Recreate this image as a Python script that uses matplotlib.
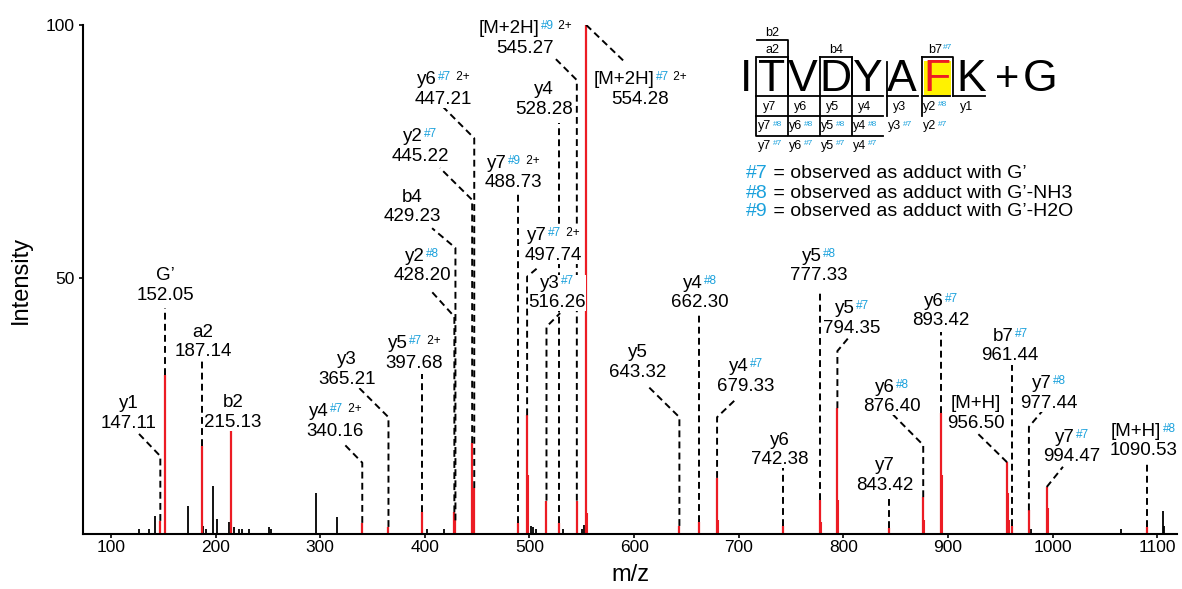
import numpy as np
import matplotlib
matplotlib.use("Agg")
import matplotlib.pyplot as plt
from matplotlib.lines import Line2D
from matplotlib.patches import Rectangle
from matplotlib.offsetbox import TextArea, HPacker, VPacker, AnnotationBbox

plt.rcParams['font.family'] = ['Liberation Sans', 'DejaVu Sans']

RED = '#ec1c24'
BLUE = '#1ba1dc'

# annotated (matched) fragment peaks
ann_mz = [147.11, 152.05, 187.14, 215.13, 340.16, 365.21, 397.68, 428.20, 429.23,
          445.22, 447.21, 488.73, 497.74, 516.26, 528.28, 545.27, 554.28, 643.32,
          662.30, 679.33, 742.38, 777.33, 794.35, 843.42, 876.40, 893.42, 956.50,
          961.44, 977.44, 994.47, 1090.53]
ann_int = [1.9, 30.7, 16.8, 19.9, 1.5, 0.7, 3.6, 3.6, 2.0,
           17.3, 8.4, 1.5, 22.8, 5.9, 1.5, 5.9, 100.0, 0.9,
           1.7, 10.4, 0.9, 6.0, 24.2, 0.5, 6.6, 23.2, 13.5,
           0.8, 4.0, 8.6, 0.7]
ann_ion = ["y1", "G\u2019", "a2", "b2", "y4", "y3", "y5", "y2", "b4",
           "y2", "y6", "y7", "y7", "y3", "y4", "[M+2H]", "[M+2H]", "y5",
           "y4", "y4", "y6", "y5", "y5", "y7", "y6", "y6", "[M+H]",
           "b7", "y7", "y7", "[M+H]"]
ann_adduct = ["", "", "", "", "#7", "", "#7", "#8", "",
              "#7", "#7", "#9", "#7", "#7", "", "#9", "#7", "",
              "#8", "#7", "", "#8", "#7", "", "#8", "#7", "",
              "#7", "#8", "#7", "#8"]
ann_charge = ["", "", "", "", "2+", "", "2+", "", "",
              "", "2+", "2+", "2+", "", "", "2+", "2+", "",
              "", "", "", "", "", "", "", "", "",
              "", "", "", ""]

# isotope peaks of matched ions (also red)
iso_mz = [498.24, 555.28, 680.33, 778.33, 795.35, 877.40, 894.42, 957.50, 958.50, 995.47]
iso_int = [11.0, 3.4, 2.0, 1.6, 6.0, 2.0, 11.0, 7.4, 2.0, 4.4]

# unmatched peaks (black)
noise_mz = [126.5, 136.3, 142.0, 173.3, 188.3, 190.5, 197.8, 201.0, 212.8, 217.5,
            222.7, 225.5, 232.0, 251.0, 252.5, 296.0, 315.7, 402.5, 418.3, 501.5,
            503.7, 506.3, 531.8, 550.0, 552.2, 979.2, 1065.0, 1106.0, 1107.0]
noise_int = [0.3, 0.3, 2.9, 4.8, 0.9, 0.2, 8.8, 2.3, 1.6, 0.7,
             0.2, 0.3, 0.3, 0.6, 0.2, 7.5, 2.6, 0.3, 0.3, 0.9,
             0.7, 0.3, 0.3, 0.3, 1.1, 0.3, 0.3, 3.8, 0.9]

# label layout: label centre, leader knee height, leader end point (data units)
lab_x = [117.2, 151.6, 188.0, 216.6, 314.2, 325.6, 389.7, 397.3, 387.8,
         395.4, 417.4, 484.3, 522.6, 526.4, 514.0, 495.8, 605.7, 603.8,
         663.1, 707.0, 739.6, 777.0, 808.4, 840.0, 846.7, 893.5, 927.0,
         959.5, 996.8, 1018.7, 1086.6]
lab_y = [23.1, 48.4, 37.3, 23.4, 21.6, 31.9, 35.0, 52.3, 64.0,
         76.0, 87.2, 70.7, 56.4, 47.0, 85.2, 97.4, 87.3, 33.3,
         47.0, 30.4, 15.9, 52.3, 42.0, 10.8, 26.4, 43.4, 23.2,
         36.5, 27.1, 16.5, 17.7]
knee_y = [14.7, 44.0, 33.7, None, 13.4, 22.4, 31.0, 42.3, 55.9,
          65.4, 77.6, 67.3, 50.2, 40.3, 80.6, 89.1, 100.0, 22.4,
          43.3, 22.4, 12.3, 47.6, 35.5, 6.6, 16.9, 39.3, 13.5,
          32.8, 20.5, 8.6, 13.5]
end_x = [125.8, None, None, None, 321.8, 335.2, None, 405.0, 406.9,
         414.5, 416.4, None, 509.2, 529.3, None, 521.6, 589.5, 612.4,
         None, 698.5, None, None, 806.5, None, 847.6, None, 927.9,
         None, 990.1, 1010.0, None]
end_y = [19.3, None, None, None, 17.3, 28.6, None, 47.6, 59.8,
         71.7, 84.0, None, 52.2, 43.0, None, 94.0, 93.0, 28.7,
         None, 26.2, None, None, 38.5, None, 22.9, None, 19.3,
         None, 23.6, 12.6, None]

W, H = 1182, 589
YMIN = -0.7


def ion_box(name, adduct, charge, value, size=13.5, sup=8.5, sep=2):
    head = [TextArea(name, textprops=dict(fontsize=size))]
    if adduct:
        head.append(TextArea(adduct, textprops=dict(fontsize=sup, color=BLUE)))
    if charge:
        head.append(TextArea(" " + charge, textprops=dict(fontsize=sup)))
    rows = [HPacker(children=head, align="top", pad=0, sep=1)]
    if value:
        rows.append(TextArea(value, textprops=dict(fontsize=size)))
    return VPacker(children=rows, align="center", pad=0, sep=sep)


fig = plt.figure(figsize=(W / 100, H / 100), dpi=100)
ax = fig.add_axes([83 / W, 1 - 534 / H, (1177 - 83) / W, (534 - 25) / H])
ax.set_xlim(73.2, 1119)
ax.set_ylim(YMIN, 100)

ax.vlines(noise_mz, YMIN, noise_int, color='black', lw=1.3, zorder=2)
ax.vlines(iso_mz, YMIN, iso_int, color=RED, lw=1.5, zorder=2)
ax.vlines(ann_mz, YMIN, ann_int, color=RED, lw=1.6, zorder=2)

for i in range(len(ann_mz)):
    if knee_y[i] is not None:
        xs = [ann_mz[i], ann_mz[i]]
        ys = [ann_int[i], knee_y[i]]
        if end_x[i] is not None:
            xs.append(end_x[i])
            ys.append(end_y[i])
        ax.plot(xs, ys, color='black', lw=1.4, ls=(0, (3.5, 2.2)), zorder=3)
    box = ion_box(ann_ion[i], ann_adduct[i], ann_charge[i], f"{ann_mz[i]:.2f}")
    ab = AnnotationBbox(box, (lab_x[i], lab_y[i]), xycoords='data', frameon=True, pad=0,
                        bboxprops=dict(fc='white', ec='none', boxstyle='square,pad=0'),
                        box_alignment=(0.5, 0.5), zorder=5, annotation_clip=False)
    ax.add_artist(ab)

for s in ['top', 'right']:
    ax.spines[s].set_visible(False)
for s in ['left', 'bottom']:
    ax.spines[s].set_linewidth(1.5)
ax.set_xticks(np.arange(100, 1101, 100))
ax.set_yticks([50, 100])
ax.tick_params(axis='x', direction='out', length=3, width=1.2, labelsize=12.5, pad=1)
ax.tick_params(axis='y', direction='out', length=3, width=1.2, labelsize=12.5, pad=3)
ax.set_xlabel('m/z', fontsize=17, labelpad=7)
ax.set_ylabel('Intensity', fontsize=17, labelpad=10)

# ---- peptide fragmentation scheme (figure pixels, y measured from top) ----
def fx(x):
    return x / W


def fy(y):
    return 1 - y / H


def seg(xs, ys):
    fig.add_artist(Line2D([fx(v) for v in xs], [fy(v) for v in ys], color='black',
                          lw=1.3, transform=fig.transFigure))


def small(x, y, name, adduct="", size=9, sup=6):
    box = ion_box(name, adduct, "", "", size=size, sup=sup)
    fig.add_artist(AnnotationBbox(box, (x, H - y), xycoords='figure pixels', frameon=False,
                                  pad=0, box_alignment=(0.5, 0.5)))


residues = list("ITVDYAFK")
res_x = [746, 772, 803, 835, 867, 902, 937, 971]
fig.add_artist(Rectangle((fx(924), fy(95)), (951.5 - 924) / W, (95 - 61.5) / H,
                         transform=fig.transFigure, fc='#fff200', ec='none'))
for r, x in zip(residues, res_x):
    fig.text(fx(x), fy(80), r, fontsize=32, ha='center', va='center',
             color=RED if r == 'F' else 'black')
fig.text(fx(1007), fy(80), '+', fontsize=30, ha='center', va='center')
fig.text(fx(1040), fy(80), 'G', fontsize=32, ha='center', va='center')

# N-terminal (b/a) brackets
seg([757, 788, 788], [40, 40, 96.5])
seg([757, 788], [56.5, 56.5])
seg([820, 852, 852], [56.5, 56.5, 96.5])
seg([922, 953, 953], [56.5, 56.5, 96.5])
small(772, 33, "b2")
small(772, 50, "a2")
small(836, 50, "b4")
small(940, 50, "b7", "#7")

# C-terminal (y) brackets
for x0 in [756, 788, 820, 852]:
    seg([x0, x0, x0 + 31], [56.5, 136, 136])
    seg([x0, x0 + 31], [96.5, 96.5])
    seg([x0, x0 + 31], [116, 116])
seg([887, 887], [62, 116])
seg([887, 918], [96.5, 96.5])
seg([922, 922], [56.5, 116])
seg([922, 950], [96.5, 96.5])
seg([953, 985], [96.5, 96.5])

row1 = ["y7", "y6", "y5", "y4", "y3", "y2", "y1"]
row1_sup = ["", "", "", "", "", "#8", ""]
row2 = ["y7", "y6", "y5", "y4", "y3", "y2"]
row2_sup = ["#8", "#8", "#8", "#8", "#7", "#7"]
row3 = ["y7", "y6", "y5", "y4"]
row3_sup = ["#7", "#7", "#7", "#7"]
col_x = [770, 801, 833, 865, 900, 935, 967]
for n, s, x in zip(row1, row1_sup, col_x):
    small(x, 107, n, s)
for n, s, x in zip(row2, row2_sup, col_x):
    small(x, 126.5, n, s)
for n, s, x in zip(row3, row3_sup, col_x):
    small(x, 146, n, s)

legend_keys = ["#7", "#8", "#9"]
legend_text = ["observed as adduct with G\u2019", "observed as adduct with G\u2019-NH3",
               "observed as adduct with G\u2019-H2O"]
for k, t, y in zip(legend_keys, legend_text, [174, 193, 211.5]):
    box = HPacker(children=[TextArea(k, textprops=dict(fontsize=14, color=BLUE)),
                            TextArea(" = " + t, textprops=dict(fontsize=14))],
                  align="baseline", pad=0, sep=0)
    fig.add_artist(AnnotationBbox(box, (746, H - y), xycoords='figure pixels',
                                  frameon=False, pad=0, box_alignment=(0, 0.5)))

fig.savefig('out.png', dpi=100, facecolor='white')
